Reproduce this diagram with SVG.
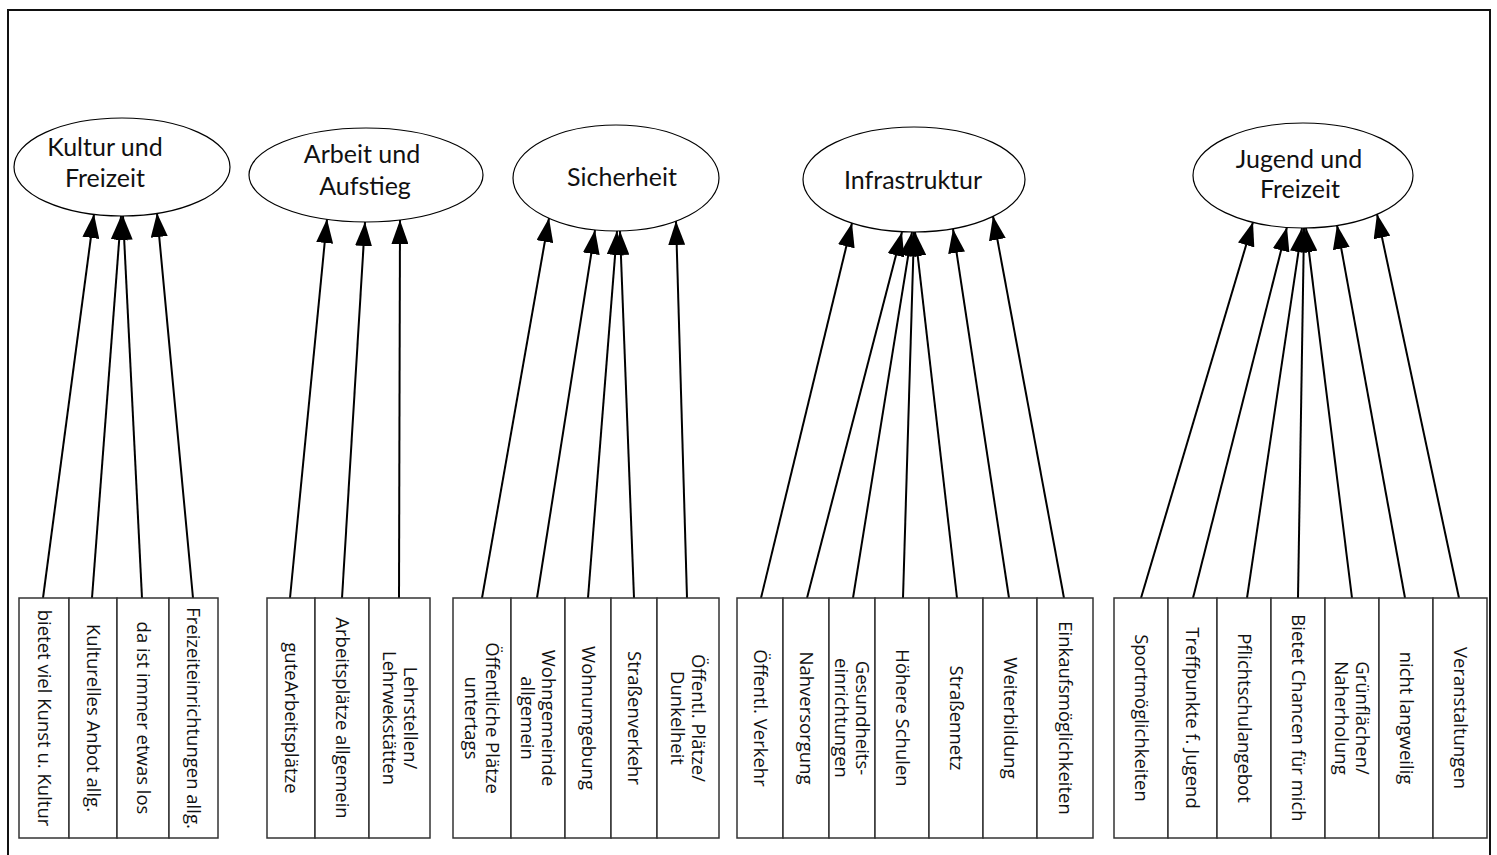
<svg xmlns="http://www.w3.org/2000/svg" width="1497" height="855" viewBox="0 0 1497 855">
<defs>
<style>
.frame{fill:none;stroke:#111;stroke-width:2}
.ell{fill:#fff;stroke:#000;stroke-width:1.2}
.et{font-family:Lato,"Open Sans",sans-serif;font-size:25px;fill:#111;text-anchor:middle}
.box{fill:#fff;stroke:#333;stroke-width:1.5}
.bt{font-family:"Open Sans","Noto Sans",sans-serif;font-size:18.5px;fill:#111;text-anchor:middle}
.con line{stroke:#000;stroke-width:2;marker-end:url(#ah)}
</style>
<marker id="ah" markerUnits="userSpaceOnUse" markerWidth="24" markerHeight="17" refX="24" refY="8.5" orient="auto" viewBox="0 0 24 17">
<path d="M0,0 L24,8.5 L0,17 Z" fill="#000"/>
</marker>
</defs>
<rect width="1497" height="855" fill="#fff"/>
<rect class="frame" x="8" y="10" width="1482" height="870"/>

<g id="connectors" class="con">
<line x1="43" y1="598" x2="94" y2="214"/>
<line x1="92" y1="598" x2="121" y2="216"/>
<line x1="142" y1="598" x2="123" y2="216"/>
<line x1="193" y1="598" x2="157" y2="213"/>
<line x1="290" y1="598" x2="327" y2="219"/>
<line x1="342" y1="598" x2="365" y2="222"/>
<line x1="399" y1="598" x2="400" y2="220"/>
<line x1="482" y1="598" x2="549" y2="218"/>
<line x1="537" y1="598" x2="595" y2="230"/>
<line x1="588" y1="598" x2="617" y2="231"/>
<line x1="634" y1="598" x2="620" y2="231"/>
<line x1="687" y1="598" x2="676" y2="221"/>
<line x1="761" y1="598" x2="852" y2="223"/>
<line x1="807" y1="598" x2="902" y2="232"/>
<line x1="853" y1="598" x2="912" y2="232"/>
<line x1="903" y1="598" x2="914" y2="232"/>
<line x1="957" y1="598" x2="915" y2="232"/>
<line x1="1009" y1="598" x2="953" y2="229"/>
<line x1="1064" y1="598" x2="993" y2="216"/>
<line x1="1141" y1="598" x2="1253" y2="222"/>
<line x1="1193" y1="598" x2="1287" y2="227"/>
<line x1="1247" y1="598" x2="1302" y2="228"/>
<line x1="1298" y1="598" x2="1304" y2="228"/>
<line x1="1352" y1="598" x2="1306" y2="228"/>
<line x1="1405" y1="598" x2="1337" y2="225"/>
<line x1="1459" y1="598" x2="1377" y2="214"/>
</g>

<g id="kultur-freizeit"><ellipse class="ell" cx="122" cy="167" rx="108" ry="49"/><text class="et" x="105" y="156">Kultur und</text><text class="et" x="105" y="187">Freizeit</text></g>
<g id="arbeit-aufstieg"><ellipse class="ell" cx="366" cy="175" rx="117" ry="47"/><text class="et" x="362" y="163">Arbeit und</text><text class="et" x="365" y="195">Aufstieg</text></g>
<g id="sicherheit"><ellipse class="ell" cx="616" cy="178" rx="103" ry="53"/><text class="et" x="622" y="186">Sicherheit</text></g>
<g id="infrastruktur"><ellipse class="ell" cx="914" cy="179.5" rx="111" ry="52.5"/><text class="et" x="913" y="189">Infrastruktur</text></g>
<g id="jugend-freizeit"><ellipse class="ell" cx="1303" cy="175.5" rx="110" ry="52.5"/><text class="et" x="1299" y="168">Jugend und</text><text class="et" x="1300" y="198">Freizeit</text></g>

<g id="b1"><rect class="box" x="19" y="598" width="50" height="240"/><text class="bt" transform="translate(44,718) rotate(90)" y="6.5">bietet viel Kunst u. Kultur</text></g>
<g id="b2"><rect class="box" x="69" y="598" width="48" height="240"/><text class="bt" transform="translate(93,718) rotate(90)" y="6.5">Kulturelles Anbot allg.</text></g>
<g id="b3"><rect class="box" x="117" y="598" width="52" height="240"/><text class="bt" transform="translate(143,718) rotate(90)" y="6.5">da ist immer etwas los</text></g>
<g id="b4"><rect class="box" x="169" y="598" width="49" height="240"/><text class="bt" transform="translate(193.5,718) rotate(90)" y="6.5">Freizeiteinrichtungen allg.</text></g>

<g id="b5"><rect class="box" x="267" y="598" width="48" height="240"/><text class="bt" transform="translate(291,718) rotate(90)" y="6.5">guteArbeitsplätze</text></g>
<g id="b6"><rect class="box" x="315" y="598" width="54" height="240"/><text class="bt" transform="translate(342,718) rotate(90)" y="6.5">Arbeitsplätze allgemein</text></g>
<g id="b7"><rect class="box" x="369" y="598" width="61" height="240"/><text class="bt" transform="translate(399.5,718) rotate(90)"><tspan x="0" y="-4">Lehrstellen/</tspan><tspan x="0" y="17">Lehrwekstätten</tspan></text></g>

<g id="b8"><rect class="box" x="453" y="598" width="58" height="240"/><text class="bt" transform="translate(482,718) rotate(90)"><tspan x="0" y="-4">Öffentliche Plätze</tspan><tspan x="0" y="17">untertags</tspan></text></g>
<g id="b9"><rect class="box" x="511" y="598" width="54" height="240"/><text class="bt" transform="translate(538,718) rotate(90)"><tspan x="0" y="-4">Wohngemeinde</tspan><tspan x="0" y="17">allgemein</tspan></text></g>
<g id="b10"><rect class="box" x="565" y="598" width="46" height="240"/><text class="bt" transform="translate(588,718) rotate(90)" y="6.5">Wohnumgebung</text></g>
<g id="b11"><rect class="box" x="611" y="598" width="46" height="240"/><text class="bt" transform="translate(634,718) rotate(90)" y="6.5">Straßenverkehr</text></g>
<g id="b12"><rect class="box" x="657" y="598" width="62" height="240"/><text class="bt" transform="translate(688,718) rotate(90)"><tspan x="0" y="-4">Öffentl. Plätze/</tspan><tspan x="0" y="17">Dunkelheit</tspan></text></g>

<g id="b13"><rect class="box" x="737" y="598" width="46" height="240"/><text class="bt" transform="translate(760,718) rotate(90)" y="6.5">Öffentl. Verkehr</text></g>
<g id="b14"><rect class="box" x="783" y="598" width="46" height="240"/><text class="bt" transform="translate(806,718) rotate(90)" y="6.5">Nahversorgung</text></g>
<g id="b15"><rect class="box" x="829" y="598" width="46" height="240"/><text class="bt" transform="translate(852,718) rotate(90)"><tspan x="0" y="-4">Gesundheits-</tspan><tspan x="0" y="17">einrichtungen</tspan></text></g>
<g id="b16"><rect class="box" x="875" y="598" width="54" height="240"/><text class="bt" transform="translate(902,718) rotate(90)" y="6.5">Höhere Schulen</text></g>
<g id="b17"><rect class="box" x="929" y="598" width="54" height="240"/><text class="bt" transform="translate(956,718) rotate(90)" y="6.5">Straßennetz</text></g>
<g id="b18"><rect class="box" x="983" y="598" width="54" height="240"/><text class="bt" transform="translate(1010,718) rotate(90)" y="6.5">Weiterbildung</text></g>
<g id="b19"><rect class="box" x="1037" y="598" width="56" height="240"/><text class="bt" transform="translate(1065,718) rotate(90)" y="6.5">Einkaufsmöglichkeiten</text></g>

<g id="b20"><rect class="box" x="1114" y="598" width="54" height="240"/><text class="bt" transform="translate(1141,718) rotate(90)" y="6.5">Sportmöglichkeiten</text></g>
<g id="b21"><rect class="box" x="1168" y="598" width="49" height="240"/><text class="bt" transform="translate(1192.5,718) rotate(90)" y="6.5">Treffpunkte f. Jugend</text></g>
<g id="b22"><rect class="box" x="1217" y="598" width="54" height="240"/><text class="bt" transform="translate(1244,718) rotate(90)" y="6.5">Pflichtschulangebot</text></g>
<g id="b23"><rect class="box" x="1271" y="598" width="54" height="240"/><text class="bt" transform="translate(1298,718) rotate(90)" y="6.5">Bietet Chancen für mich</text></g>
<g id="b24"><rect class="box" x="1325" y="598" width="54" height="240"/><text class="bt" transform="translate(1352,718) rotate(90)"><tspan x="0" y="-4">Grünflächen/</tspan><tspan x="0" y="17">Naherholung</tspan></text></g>
<g id="b25"><rect class="box" x="1379" y="598" width="54" height="240"/><text class="bt" transform="translate(1406,718) rotate(90)" y="6.5">nicht langweilig</text></g>
<g id="b26"><rect class="box" x="1433" y="598" width="54" height="240"/><text class="bt" transform="translate(1460,718) rotate(90)" y="6.5">Veranstaltungen</text></g>
</svg>
